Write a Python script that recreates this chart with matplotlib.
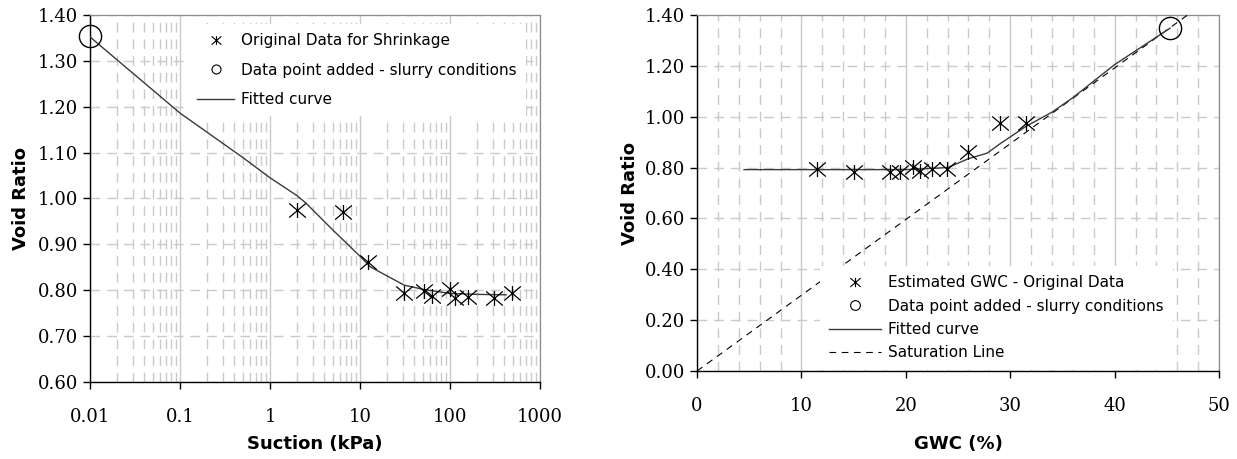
import numpy as np
import matplotlib
matplotlib.use("Agg")
import matplotlib.pyplot as plt
import matplotlib.ticker as ticker
from matplotlib.path import Path
from matplotlib.lines import Line2D

# shrinkage data - left panel (suction vs void ratio)
suction = [2.0, 6.5, 12.3, 31, 51, 63, 101, 114, 160, 305, 490]
void_suction = [0.974, 0.971, 0.861, 0.795, 0.799, 0.788, 0.802, 0.783, 0.786, 0.784, 0.795]
slurry_suction = [0.01]
slurry_void_left = [1.355]
fit_suction = [0.01, 0.1, 0.5, 1, 2, 2.5, 5, 10, 13, 20, 31, 50, 100, 200, 420]
fit_void_left = [1.352, 1.186, 1.089, 1.045, 1.006, 0.99, 0.931, 0.874, 0.851, 0.831, 0.811, 0.802, 0.793, 0.791, 0.790]

# right panel (gravimetric water content vs void ratio)
gwc = [11.5, 15.0, 18.5, 19.4, 20.7, 21.4, 22.5, 23.9, 26.0, 29.0, 31.5]
void_gwc = [0.795, 0.783, 0.783, 0.782, 0.803, 0.788, 0.795, 0.794, 0.862, 0.975, 0.977]
slurry_gwc = [45.3]
slurry_void_right = [1.348]
fit_gwc = [4.5, 10, 15, 20, 24, 26, 27.8, 29, 31.5, 34, 36, 40, 45.3]
fit_void_right = [0.792, 0.792, 0.792, 0.792, 0.80, 0.835, 0.857, 0.893, 0.962, 1.018, 1.075, 1.205, 1.348]
sat_gwc = [0, 50]
sat_void = [0, 1.49]

# asterisk marker: X with a vertical bar
star = Path([(-1, -0.85), (1, 0.85), (-1, 0.85), (1, -0.85), (0, -0.9), (0, 0.9)],
            [Path.MOVETO, Path.LINETO] * 3)

fig = plt.figure(figsize=(12.37, 4.59), dpi=100)
ax1 = fig.add_axes([0.0728, 0.1678, 0.3638, 0.7996])
ax2 = fig.add_axes([0.5635, 0.1917, 0.4220, 0.7756])

tick_font = dict(family="DejaVu Serif", size=13)
label_font = dict(family="DejaVu Sans", size=13, weight="bold")
legend_font = dict(family="DejaVu Sans", size=11)
fit_color = "#3a3a3a"
grid_color = "#cacaca"


def style_axes(ax):
    for s in ["top", "right"]:
        ax.spines[s].set_color("#8c8c8c")
        ax.spines[s].set_linewidth(0.9)
    for s in ["left", "bottom"]:
        ax.spines[s].set_color("black")
        ax.spines[s].set_linewidth(1.0)
    ax.tick_params(which="major", direction="out", length=5, width=1,
                   top=False, right=False)
    ax.tick_params(which="minor", length=0)
    ax.tick_params(axis="x", pad=14)
    ax.grid(which="major", axis="x", color=grid_color, linestyle="-", linewidth=1.0)
    ax.grid(which="minor", axis="x", color=grid_color, linestyle=(0, (7, 5)), linewidth=1.0)
    ax.grid(which="major", axis="y", color=grid_color, linestyle=(0, (7, 5)), linewidth=1.0)
    ax.set_axisbelow(True)
    for lbl in ax.get_xticklabels() + ax.get_yticklabels():
        lbl.set_fontfamily(tick_font["family"])
        lbl.set_fontsize(tick_font["size"])


# ---- left panel
ax1.set_xscale("log")
ax1.plot(fit_suction, fit_void_left, color=fit_color, lw=1.0, zorder=3)
ax1.plot(suction, void_suction, linestyle="none", marker=star, markersize=12,
         markeredgecolor="black", markeredgewidth=0.9, zorder=4)
ax1.plot(slurry_suction, slurry_void_left, linestyle="none", marker="o", markersize=16,
         markerfacecolor="none", markeredgecolor="black", markeredgewidth=1.0,
         clip_on=False, zorder=4)
ax1.set_xlim(0.01, 1000)
ax1.set_ylim(0.60, 1.40)
ax1.xaxis.set_major_locator(ticker.LogLocator(base=10, numticks=10))
ax1.xaxis.set_minor_locator(ticker.LogLocator(base=10, subs=np.arange(2, 10), numticks=20))
ax1.xaxis.set_major_formatter(ticker.FuncFormatter(lambda v, p: f"{v:g}"))
ax1.xaxis.set_minor_formatter(ticker.NullFormatter())
ax1.yaxis.set_major_locator(ticker.MultipleLocator(0.1))
ax1.yaxis.set_major_formatter(ticker.FormatStrFormatter("%.2f"))
style_axes(ax1)
ax1.set_xlabel("Suction (kPa)", labelpad=6, **label_font)
ax1.set_ylabel("Void Ratio", labelpad=6, **label_font)

h1 = [Line2D([], [], linestyle="none", marker=star, markersize=7, color="black",
             markeredgewidth=0.8),
      Line2D([], [], linestyle="none", marker="o", markersize=6.5, markerfacecolor="none",
             markeredgecolor="black", markeredgewidth=0.8),
      Line2D([], [], color=fit_color, lw=1.0)]
ax1.legend(h1, ["Original Data for Shrinkage", "Data point added - slurry conditions",
                "Fitted curve"],
           loc="upper left", bbox_to_anchor=(0.218, 0.975), borderaxespad=0,
           borderpad=0.6, frameon=True, facecolor="white", edgecolor="none",
           framealpha=1, fancybox=False, prop=legend_font,
           handlelength=2.4, handletextpad=0.45, labelspacing=0.95)

# ---- right panel
ax2.plot(sat_gwc, sat_void, color="black", lw=0.8, linestyle=(0, (6, 5)), zorder=3)
ax2.plot(fit_gwc, fit_void_right, color=fit_color, lw=1.0, zorder=3)
ax2.plot(gwc, void_gwc, linestyle="none", marker=star, markersize=12,
         markeredgecolor="black", markeredgewidth=0.9, zorder=4)
ax2.plot(slurry_gwc, slurry_void_right, linestyle="none", marker="o", markersize=16,
         markerfacecolor="none", markeredgecolor="black", markeredgewidth=1.0, zorder=4)
ax2.set_xlim(0, 50)
ax2.set_ylim(0, 1.40)
ax2.xaxis.set_major_locator(ticker.MultipleLocator(10))
ax2.xaxis.set_minor_locator(ticker.MultipleLocator(2))
ax2.yaxis.set_major_locator(ticker.MultipleLocator(0.2))
ax2.yaxis.set_major_formatter(ticker.FormatStrFormatter("%.2f"))
style_axes(ax2)
ax2.set_xlabel("GWC (%)", labelpad=14, **label_font)
ax2.set_ylabel("Void Ratio", labelpad=4, **label_font)

h2 = [Line2D([], [], linestyle="none", marker=star, markersize=7.5, color="black",
             markeredgewidth=0.8),
      Line2D([], [], linestyle="none", marker="o", markersize=7, markerfacecolor="none",
             markeredgecolor="black", markeredgewidth=0.8),
      Line2D([], [], color=fit_color, lw=1.0),
      Line2D([], [], color="black", lw=0.8, linestyle=(0, (6, 5)))]
ax2.legend(h2, ["Estimated GWC - Original Data", "Data point added - slurry conditions",
                "Fitted curve", "Saturation Line"],
           loc="upper left", bbox_to_anchor=(0.236, 0.295), borderaxespad=0,
           borderpad=0.6, frameon=True, facecolor="white", edgecolor="none",
           framealpha=1, fancybox=False, prop=legend_font,
           handlelength=3.4, handletextpad=0.45, labelspacing=0.55)

fig.savefig("out.png", dpi=100)
